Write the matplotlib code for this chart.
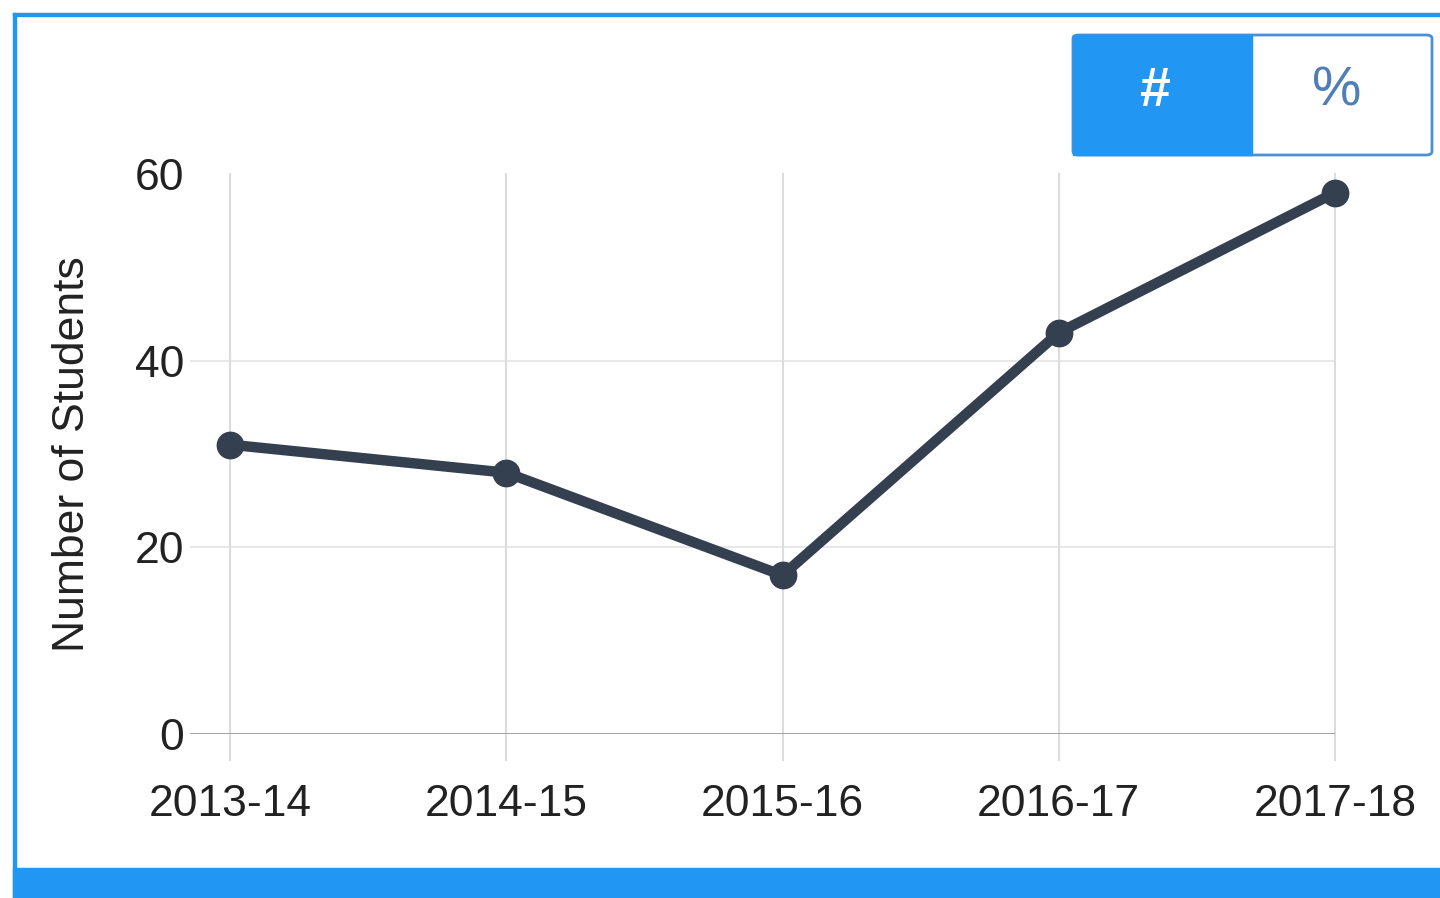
import matplotlib
matplotlib.use('Agg')
import matplotlib.pyplot as plt
from matplotlib.patches import Rectangle, FancyBboxPatch

# data
years = ['2013-14', '2014-15', '2015-16', '2016-17', '2017-18']
students = [31, 28, 17, 43, 58]
y_ticks = [0, 20, 40, 60]

W, H = 1440, 898
BLUE = '#2196F3'
LINE = '#343f4f'

plt.rcParams['font.family'] = ['Liberation Sans', 'DejaVu Sans']

fig = plt.figure(figsize=(W / 100, H / 100), dpi=100)
fig.patch.set_facecolor('white')

def fx(px):
    return px / W

def fy(py):
    return 1 - py / H

# panel frame (left + top blue border) and bottom blue bar
fig.patches.append(Rectangle((fx(13), 0), fx(3), fy(13),
                             transform=fig.transFigure, color=BLUE, zorder=0))
fig.patches.append(Rectangle((fx(13), fy(16)), 1, 3 / H,
                             transform=fig.transFigure, color=BLUE, zorder=0))
fig.patches.append(Rectangle((fx(13), 0), 1, 30 / H,
                             transform=fig.transFigure, color=BLUE, zorder=0))

# chart
left, right = 190, 1335
top, bottom = 174, 734
ax = fig.add_axes([fx(left), fy(bottom), fx(right - left), (bottom - top) / H])
step = (right - 230) / (len(years) - 1)
ax.set_xlim(-(230 - left) / step, len(years) - 1)
ax.set_ylim(0, 60)

xs = list(range(len(years)))
ax.plot(xs, students, color=LINE, lw=7.5, marker='o', ms=19, zorder=5, clip_on=False)

for s in ax.spines.values():
    s.set_visible(False)
ax.axhline(0, color='#9a9a9a', lw=2, zorder=3)
for y in y_ticks[1:-1]:
    ax.axhline(y, color='#e8e8e8', lw=1.5, zorder=1)
for x in xs:
    ax.plot([x, x], [-2.8, 60], color='#dcdcdc', lw=1.5, zorder=1, clip_on=False)

ax.set_xticks(xs)
ax.set_xticklabels(years)
ax.set_yticks(y_ticks)
ax.tick_params(axis='both', length=0, labelsize=32, colors='#222222')
ax.tick_params(axis='x', pad=36)
ax.tick_params(axis='y', pad=4)
ax.set_ylabel('Number of Students', fontsize=32, color='#222222', labelpad=30)

# # / % toggle
bx0, bx1, bmid = 1073, 1432, 1252
by0, by1 = 35, 155
fig.patches.append(FancyBboxPatch((fx(bx0), fy(by1)), fx(bx1 - bx0), (by1 - by0) / H,
                                  boxstyle='round,pad=0,rounding_size=0.004',
                                  transform=fig.transFigure, facecolor='white',
                                  edgecolor='#4a8fd8', lw=2))
fig.patches.append(Rectangle((fx(bx0), fy(by1)), fx(bmid - bx0), (by1 - by0) / H,
                             transform=fig.transFigure, color=BLUE))
fig.text(fx(1155), fy(92), '#', color='white', fontsize=40, fontweight='bold',
         ha='center', va='center')
fig.text(fx(1337), fy(92), '%', color='#4f7fb8', fontsize=40,
         ha='center', va='center')

fig.savefig('out.png', dpi=100)
